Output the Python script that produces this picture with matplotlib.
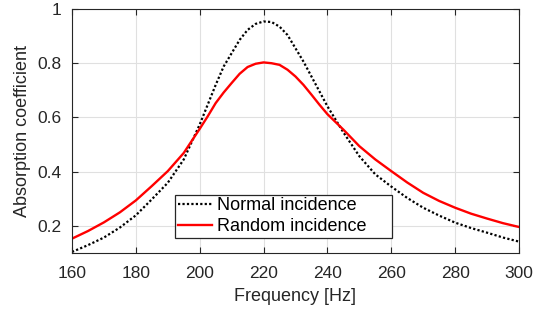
import matplotlib
matplotlib.use("Agg")
import matplotlib.pyplot as plt

freq = [160, 165, 170, 175, 180, 185, 190, 195, 200, 202.5, 205, 207.5, 210, 212.5,
        215, 217.5, 220, 222.5, 225, 227.5, 230, 232.5, 235, 237.5, 240, 245, 250,
        255, 260, 265, 270, 275, 280, 285, 290, 295, 300]
normal = [0.104, 0.129, 0.157, 0.194, 0.239, 0.298, 0.359, 0.445, 0.574, 0.647, 0.720,
          0.788, 0.837, 0.886, 0.923, 0.945, 0.954, 0.952, 0.935, 0.904, 0.855, 0.806,
          0.751, 0.696, 0.641, 0.545, 0.457, 0.390, 0.345, 0.303, 0.267, 0.238, 0.212,
          0.192, 0.175, 0.157, 0.142]
random_inc = [0.153, 0.181, 0.213, 0.250, 0.294, 0.347, 0.402, 0.469, 0.558, 0.604, 0.653,
              0.692, 0.727, 0.761, 0.786, 0.798, 0.803, 0.800, 0.794, 0.776, 0.751, 0.720,
              0.684, 0.647, 0.612, 0.555, 0.494, 0.445, 0.402, 0.360, 0.322, 0.292, 0.267,
              0.245, 0.227, 0.210, 0.196]
xticks = [160, 180, 200, 220, 240, 260, 280, 300]
yticks = [0.2, 0.4, 0.6, 0.8, 1.0]
ytick_labels = ["0.2", "0.4", "0.6", "0.8", "1"]
series_labels = ["Normal incidence", "Random incidence"]

plt.rcParams['font.family'] = ['Liberation Sans', 'DejaVu Sans']
dark = '#262626'

fig = plt.figure(figsize=(5.39, 3.11), dpi=100)
ax = fig.add_axes([72/539, 1 - 253/311, 447/539, 244/311])

ax.plot(freq, normal, color='black', linestyle=(0, (1, 1)), linewidth=1.6, label=series_labels[0])
ax.plot(freq, random_inc, color='#ff0000', linestyle='-', linewidth=1.7, label=series_labels[1])

ax.set_xlim(160, 300)
ax.set_ylim(0.1, 1.0)
ax.set_xticks(xticks)
ax.set_yticks(yticks)
ax.set_yticklabels(ytick_labels)
ax.grid(True, color='#e0e0e0', linewidth=0.8)
ax.set_axisbelow(True)
ax.tick_params(direction='in', length=4, width=0.8, colors=dark, labelsize=12.5,
               top=True, right=True)
ax.tick_params(axis='x', pad=9.5)
ax.tick_params(axis='y', pad=7.5)
for s in ax.spines.values():
    s.set_color(dark)
    s.set_linewidth(0.8)

ax.set_xlabel("Frequency [Hz]", fontsize=13, color=dark, labelpad=5)
ax.set_ylabel("Absorption coefficient", fontsize=13, color=dark, labelpad=5)

leg = ax.legend(loc='lower left', bbox_to_anchor=(0.2304, 0.0615, 0.4855, 0.19),
                mode='expand', fontsize=13,
                frameon=True, fancybox=False, framealpha=1, edgecolor=dark,
                handlelength=1.9, handletextpad=0.3, borderpad=0.15,
                labelspacing=0.22, borderaxespad=0)
leg.get_frame().set_linewidth(0.9)

fig.savefig("out.png", dpi=100)
